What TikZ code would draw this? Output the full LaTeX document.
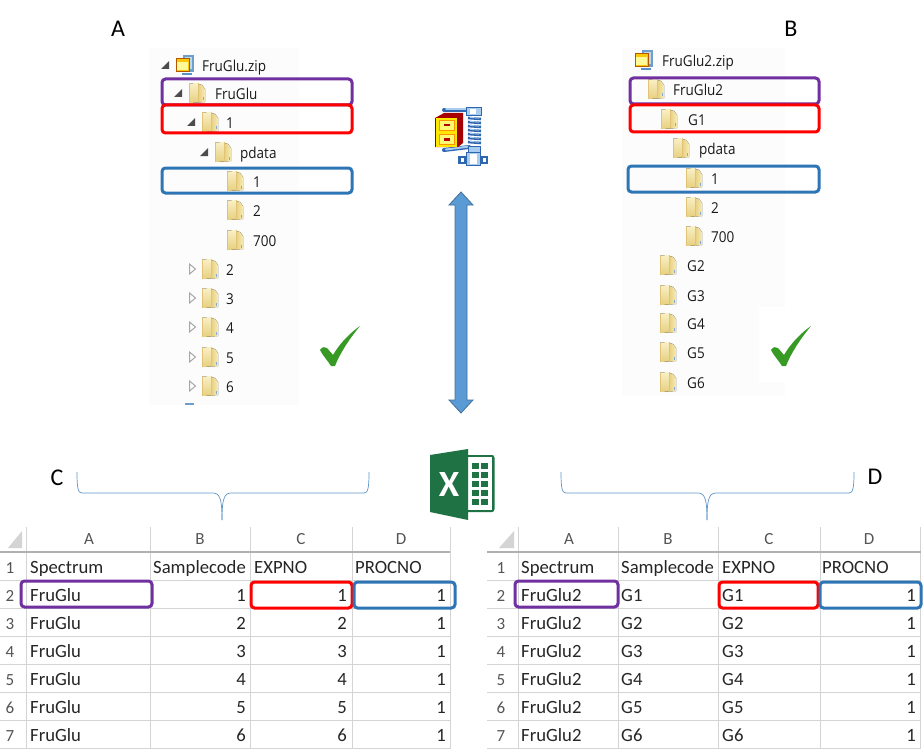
\documentclass[tikz,border=0pt]{standalone}
\usepackage{fontspec}
\setmainfont{Carlito}
\newfontfamily\treefont{Open Sans}
\usetikzlibrary{shapes.geometric,calc}
\definecolor{cpurple}{HTML}{7030A0}
\definecolor{cred}{HTML}{FF0000}
\definecolor{cblue}{HTML}{2E75B6}
\definecolor{arrowfill}{HTML}{5B9BD5}
\definecolor{arrowline}{HTML}{41719C}
\definecolor{cgreen}{HTML}{379A25}
\definecolor{xlgreen}{HTML}{1F7244}
\definecolor{gridc}{HTML}{D4D4D4}
\definecolor{headc}{HTML}{B0B0B0}
\definecolor{headtxt}{HTML}{555555}
\definecolor{panelc}{HTML}{FCFCFC}
\definecolor{foldA}{HTML}{F7EBB8}
\definecolor{foldB}{HTML}{E6CF7E}
\definecolor{foldC}{HTML}{FAF0C6}
\definecolor{clampL}{HTML}{A9CDEE}
\definecolor{clampD}{HTML}{2F66B0}
\tikzset{
  x=1pt,y=-1pt,
  letter/.style={font=\fontsize{24}{24}\selectfont,text=black,inner sep=0pt},
  treetxt/.style={font=\treefont\fontsize{15}{16}\selectfont,text=black!90,anchor=base west,inner sep=0pt,xscale=.9,yshift=-6.5pt},
  selbox/.style={rounded corners=3.5pt,line width=3pt,fill=none},
  cellt/.style={font=\fontsize{18.7}{20}\selectfont,text=black!85,anchor=base west,inner sep=0pt,yshift=-6pt},
  cellr/.style={font=\fontsize{18.7}{20}\selectfont,text=black!85,anchor=base east,inner sep=0pt,yshift=-6pt},
  hdr/.style={font=\fontsize{17}{18}\selectfont,text=headtxt,anchor=base,inner sep=0pt,yshift=-6pt},
  grid/.style={draw=gridc,line width=.7pt},
  hgrid/.style={draw=headc,line width=1.2pt},
  bracket/.style={draw=cblue!75,line width=.7pt},
  tick/.style={fill=cgreen,draw=none},
}
% folder icon: left edge x, centre y
\newcommand{\fold}[2]{%
  \begin{scope}[shift={(#1,#2)}]
    \fill[top color=foldC,bottom color=foldB] (0,-9.5) -- (9,-10) -- (9,9.5) -- (0,10) -- cycle;
    \fill[left color=foldB,right color=foldA] (9,-9) -- (13,-8) -- (16,-4) -- (16,9) -- (9,9.5) -- cycle;
    \draw[foldB!85!brown,line width=.5pt] (0,-9.5) -- (0,10) (9,-10) -- (9,9.5);
    \fill[cblue!60] (14,4.5) rectangle (15.3,7.5);
  \end{scope}}
% open triangle
\newcommand{\opentri}[2]{\fill[black!70] (#1+4,#2-4) -- (#1+4,#2+4) -- (#1-4,#2+4) -- cycle;}
\newcommand{\closedtri}[2]{\draw[black!35,line width=1pt,fill=white] (#1-2.5,#2-5) -- (#1+3.5,#2) -- (#1-2.5,#2+5) -- cycle;}
% zip folder icon in the tree
\newcommand{\zipicon}[2]{%
  \begin{scope}[shift={(#1,#2)}]
    \fill[cblue!70] (7,-10) rectangle (18,7);
    \fill[cblue!30] (9,-8) rectangle (16,4);
    \fill[cblue!80] (6,8) rectangle (16,10);
    \fill[yellow!60!orange,draw=orange!70!black,line width=.7pt] (0,-7) rectangle (13,6);
    \fill[yellow!40!white] (1,-3) rectangle (12,5);
  \end{scope}}
\begin{document}
\begin{tikzpicture}
\useasboundingbox (0,0) rectangle (923,749);
\fill[white] (0,0) rectangle (923,749);

% panels
\fill[panelc] (149,48) rectangle (299,405);
\fill[panelc] (622,48) rectangle (785,307);
\fill[panelc] (622,307) rectangle (759,382);
\fill[panelc] (622,382) rectangle (785,396);

% letters
\node[letter] (la) at (118,29) {A};
\node[letter] (lb) at (791,29) {B};
\node[letter] (lc) at (57,478) {C};
\node[letter] (ld) at (875,477) {D};

% --- left tree ---
\zipicon{176}{65}
\node[treetxt] (t1) at (202,65) {FruGlu.zip};
\opentri{165}{65}
\opentri{178}{93}\fold{189}{93}
\node[treetxt] (t2) at (215,93) {FruGlu};
\opentri{191}{122}\fold{202}{122}
\node[treetxt] (t3) at (226,122) {1};
\opentri{204}{152}\fold{215}{152}
\node[treetxt] (t4) at (240,152) {pdata};
\fold{227}{181}\node[treetxt] (t5) at (253,181) {1};
\fold{227}{210}\node[treetxt] (t6) at (253,210) {2};
\fold{227}{240}\node[treetxt] (t7) at (253,240) {700};
\foreach \yy/\lab [count=\i] in {269/2,298/3,327/4,357/5,386/6}{
  \closedtri{192}{\yy}\fold{202}{\yy}
  \node[treetxt] (ts\i) at (226,\yy) {\lab};
}
\fill[cblue!70] (185,403) rectangle (194,405);

% --- right tree ---
\zipicon{635}{60}
\node[treetxt] (r1) at (662,60) {FruGlu2.zip};
\fold{648}{89}\node[treetxt] (r2) at (673,89) {FruGlu2};
\fold{661}{119}\node[treetxt] (r3) at (688,119) {G1};
\fold{673}{148}\node[treetxt] (r4) at (699,148) {pdata};
\fold{686}{178}\node[treetxt] (r5) at (711,178) {1};
\fold{686}{207}\node[treetxt] (r6) at (711,207) {2};
\fold{686}{236}\node[treetxt] (r7) at (711,236) {700};
\foreach \yy/\lab [count=\i] in {265/G2,295/G3,323/G4,352/G5,382/G6}{
  \fold{660}{\yy}
  \node[treetxt] (rs\i) at (687,\yy) {\lab};
}

% tree selection boxes
\draw[selbox,cpurple] (162,79) rectangle (352,105);
\draw[selbox,cred] (162,105) rectangle (352,133);
\draw[selbox,cblue] (162,168) rectangle (352,193);
\draw[selbox,cpurple] (630,78) rectangle (819,104);
\draw[selbox,cred] (630,105) rectangle (819,132);
\draw[selbox,cblue] (628,166) rectangle (819,192);

% check marks
\foreach \xx in {320,771}{
  \fill[tick,shift={(\xx,326)}] (0,24) .. controls (2,21) and (5,20) .. (7,22) -- (13,29)
     .. controls (20,17) and (30,7) .. (40,0)
     .. controls (30,12) and (20,27) .. (15,40) -- (11,40) .. controls (8,35) and (3,30) .. (0,24) -- cycle;
}

% zip (clamp) icon
\begin{scope}[shift={(436,105)}]
  % clamp arcs
  \draw[clampD,line width=4pt,line cap=round] (8,5) -- (33,5);
  \draw[clampL,line width=2pt,line cap=round] (10,4.5) -- (33,4.5);
  \draw[clampD,line width=4pt,line cap=round] (8,45) -- (33,42);
  \draw[clampL,line width=2pt,line cap=round] (10,44.5) -- (33,41.5);
  % spring
  \foreach \s in {13,17,...,37}{
    \draw[clampD,line width=2.6pt] (32,\s) -- (45,\s+1);
    \draw[clampL,line width=.9pt] (34,\s-.6) -- (43,\s+.1);
  }
  \fill[clampD] (30,2) rectangle (46,11);
  \fill[clampL] (31,3) rectangle (45,10);
  \fill[white] (34,4) rectangle (40,9);
  \fill[clampD] (32,41) rectangle (45,49);
  \fill[clampL] (33,42) rectangle (44,48);
  % base
  \fill[clampD] (22,51) rectangle (52,59);
  \fill[clampD] (30,47) rectangle (45,61);
  \fill[clampL] (31,48) rectangle (44,60);
  \fill[white] (34,49) rectangle (41,59);
  \fill[white] (25,53) rectangle (28,57);
  \fill[white] (47,53) rectangle (50,57);
  % cabinet
  \fill[red!65!black] (-1,13) -- (8,8) -- (27,8) -- (27,38) -- (22,42) -- (-1,42) -- cycle;
  \fill[yellow!90!orange] (0,13) rectangle (21,42);
  \foreach \yy in {15,29}{
    \fill[orange!85!yellow] (3,\yy) rectangle (19,\yy+11);
    \fill[yellow!55!white] (4,\yy+1) rectangle (18,\yy+10);
    \fill[red!70!black] (8,\yy+4) rectangle (14,\yy+6.5);
  }
\end{scope}

% double arrow
\coordinate (arrtop) at (461,192);
\coordinate (arrbot) at (461,413);
\draw[draw=arrowline,fill=arrowfill,line width=.8pt]
  (arrtop) -- ++(12,13) -- ++(-6,0) -- ($(arrbot)+(6,-13)$) -- ++(6,0) -- (arrbot)
  -- ++(-12,-13) -- ++(6,0) -- ($(arrtop)+(-6,13)$) -- ++(-6,0) -- cycle;

% excel icon
\begin{scope}[shift={(430,449)}]
  \fill[xlgreen] (36,6) -- (62,6) .. controls (63.5,6) and (64.5,7) .. (64.5,9) -- (64.5,60) .. controls (64.5,62) and (63.5,63) .. (62,63) -- (36,63) -- cycle;
  \fill[white] (36,8) rectangle (62,61);
  \foreach \yy in {14,23,32,41,50}{
    \fill[xlgreen] (42,\yy) rectangle (48.5,\yy+6);
    \fill[xlgreen] (50.5,\yy) rectangle (57.5,\yy+6);
  }
  \fill[xlgreen] (0,6) -- (38,0) -- (38,71) -- (0,63) -- cycle;
  \node[font=\bfseries\fontsize{37}{37}\selectfont,text=white,inner sep=0pt] (xl) at (19,35) {X};
\end{scope}

% brackets
\draw[bracket] (77,472) .. controls (77,488) and (78,493) .. (82,493) -- (212,493)
  .. controls (219,493) and (222,496) .. (222,520);
\draw[bracket] (369,472) .. controls (369,488) and (368,493) .. (364,493) -- (232,493)
  .. controls (225,493) and (222,496) .. (222,520);
\draw[bracket] (561,472) .. controls (561,488) and (562,493) .. (566,493) -- (697,493)
  .. controls (704,493) and (707,496) .. (707,520);
\draw[bracket] (854,472) .. controls (854,488) and (853,493) .. (849,493) -- (717,493)
  .. controls (710,493) and (707,496) .. (707,520);

% --- left table grid ---
\foreach \yy in {580,608,636,664,692,720,748}{\draw[grid] (0,\yy) -- (450,\yy);}
\foreach \xx in {150,250,352,450}{\draw[grid] (\xx,552) -- (\xx,749);\draw[grid,line width=1pt] (\xx,527) -- (\xx,552);}
\draw[grid,line width=1pt] (26,527) -- (26,749);
\draw[hgrid] (0,552) -- (450,552);
\fill[gridc] (8,548) -- (22,548) -- (22,531) -- cycle;
\foreach \t/\xx [count=\i] in {A/89,B/200,C/301,D/401}{\node[hdr] (lh\i) at (\xx,538) {\t};}
\foreach \n [count=\i] in {1,...,7}{\node[hdr] (ln\i) at (10,{567+(\i-1)*28}) {\n};}
\node[cellt] (lc1) at (30,567) {Spectrum};
\node[cellt] (lc2) at (153,567) {Samplecode};
\node[cellt] (lc3) at (254,567) {EXPNO};
\node[cellt] (lc4) at (355,567) {PROCNO};
\foreach \n [count=\i] in {1,...,6}{
  \node[cellt] (la\i) at (30,{595+(\i-1)*28}) {FruGlu};
  \node[cellr] (lb\i) at (246,{595+(\i-1)*28}) {\n};
  \node[cellr] (lx\i) at (347,{595+(\i-1)*28}) {\n};
  \node[cellr] (ly\i) at (446,{595+(\i-1)*28}) {1};
}

% --- right table grid ---
\foreach \yy in {580,608,636,664,692,720,748}{\draw[grid] (487,\yy) -- (921,\yy);}
\foreach \xx in {618,718,820,920}{\draw[grid] (\xx,552) -- (\xx,749);\draw[grid,line width=1pt] (\xx,527) -- (\xx,552);}
\draw[grid,line width=1pt] (518,527) -- (518,749);
\draw[hgrid] (487,552) -- (921,552);
\fill[gridc] (499,548) -- (514,548) -- (514,531) -- cycle;
\foreach \t/\xx [count=\i] in {A/569,B/668,C/769,D/869}{\node[hdr] (rh\i) at (\xx,538) {\t};}
\foreach \n [count=\i] in {1,...,7}{\node[hdr] (rn\i) at (501,{567+(\i-1)*28}) {\n};}
\node[cellt] (rc1) at (521,567) {Spectrum};
\node[cellt] (rc2) at (621,567) {Samplecode};
\node[cellt] (rc3) at (722,567) {EXPNO};
\node[cellt] (rc4) at (822,567) {PROCNO};
\foreach \n [count=\i] in {1,...,6}{
  \node[cellt] (ra\i) at (521,{595+(\i-1)*28}) {FruGlu2};
  \node[cellt] (rb\i) at (621,{595+(\i-1)*28}) {G\n};
  \node[cellt] (rx\i) at (722,{595+(\i-1)*28}) {G\n};
  \node[cellr] (ry\i) at (916,{595+(\i-1)*28}) {1};
}

% table selection boxes
\draw[selbox,cpurple] (21,581) rectangle (152,607);
\draw[selbox,cred] (251,582) rectangle (352,608);
\draw[selbox,cblue] (354,582) rectangle (455,608);
\draw[selbox,cpurple] (515,581) rectangle (618,607);
\draw[selbox,cred] (719,582) rectangle (818,608);
\draw[selbox,cblue] (820,582) rectangle (921,608);
\end{tikzpicture}
\end{document}
